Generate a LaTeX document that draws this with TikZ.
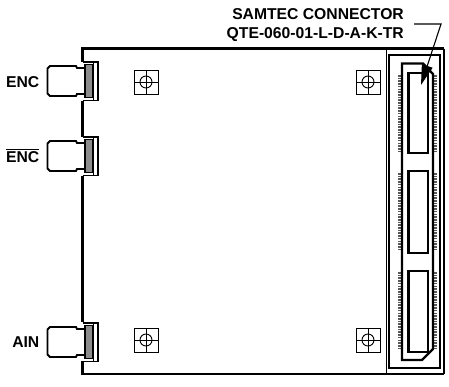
\documentclass[tikz,border=0pt]{standalone}
\usepackage{fontspec}
\setmainfont{Liberation Sans}
\usetikzlibrary{arrows.meta}
\tikzset{
    edgeline/.style={line width=2.3pt, line join=miter},
    thinline/.style={line width=1.4pt},
    bodyline/.style={line width=1.9pt},
    holeline/.style={line width=0.95pt},
    windowline/.style={line width=2.2pt, fill=white},
    teeth/.style={line width=3.2pt, dash pattern=on 1.6pt off 1.1pt, gray!70!black},
    labeltext/.style={font=\bfseries\fontsize{15.7}{17}\selectfont, inner sep=0pt}
}
\begin{document}
\begin{tikzpicture}[x=1pt,y=-1pt]
        \useasboundingbox (0,0) rectangle (449,386);

        \node[labeltext,anchor=base east] (n1) at (404,19) {SAMTEC CONNECTOR};
        \node[labeltext,anchor=base east] (n2) at (404,38) {QTE-060-01-L-D-A-K-TR};
        \node[labeltext,anchor=base east] (n3) at (39.5,87) {ENC};
        \node[labeltext,anchor=base east] (n4) at (39.5,162) {$\overline{\mbox{ENC}}$};
        \node[labeltext,anchor=base east] (n5) at (39.5,347) {AIN};

        \draw[edgeline] (82.5,62) -- (82.5,48.5) -- (444,48.5);
        \draw[edgeline] (82.5,101) -- (82.5,137);
        \draw[edgeline] (82.5,176) -- (82.5,322);
        \draw[edgeline] (82.5,361) -- (82.5,374) -- (444,374);
        \draw[thinline] (444,48.5) -- (444,374);
        \draw[thinline] (386.7,48.5) -- (386.7,374);
        \draw[thinline] (389,55) rectangle (440,368);

        \foreach \c in {81,156,342}{
            \draw[bodyline,fill=white] (84,\c-13) -- (77,\c-13) -- (76,\c-15) -- (50,\c-15) -- (47.5,\c-12.5)
                -- (47.5,\c+12.5) -- (50,\c+15) -- (76,\c+15) -- (77,\c+13) -- (84,\c+13);
            \draw[bodyline,fill=gray!90] (85,\c-16.5) rectangle (92.5,\c+16.5);
            \draw[bodyline] (82.5,\c-19) -- (97.8,\c-19) -- (97.8,\c+19.5) -- (82.5,\c+19.5);
            \draw[bodyline] (93.5,\c-19) -- (93.5,\c+19.5);
        }

        \foreach \x/\y in {146/82,368/82,146/340,368/340}{
            \draw[holeline] (\x-12,\y-12) rectangle (\x+12,\y+12);
            \draw[holeline] (\x-12,\y) -- (\x+12,\y);
            \draw[holeline] (\x,\y-12) -- (\x,\y+12);
            \draw[holeline] (\x,\y) circle (6);
        }

        \foreach \a/\b in {75/153,173/250,272/348}{
            \draw[teeth] (400,\a) -- (400,\b);
            \draw[teeth] (435.2,\a) -- (435.2,\b);
        }

        \draw[edgeline] (402,63.5) -- (423,63.5) -- (433,74) -- (433,349) -- (422,360) -- (402,360) -- cycle;

        \draw[windowline] (408.5,73) rectangle (428,153);
        \draw[windowline] (408.5,171) rectangle (428,253);
        \draw[windowline] (408.5,271) rectangle (428,352);

        \coordinate (c1) at (414,24);
        \coordinate (c2) at (441,24);
        \coordinate (c3) at (421,85);
        \draw[line width=1.1pt,-{Triangle[length=20pt,width=11pt]}] (c1) -- (c2) -- (c3);

\end{tikzpicture}
\end{document}
